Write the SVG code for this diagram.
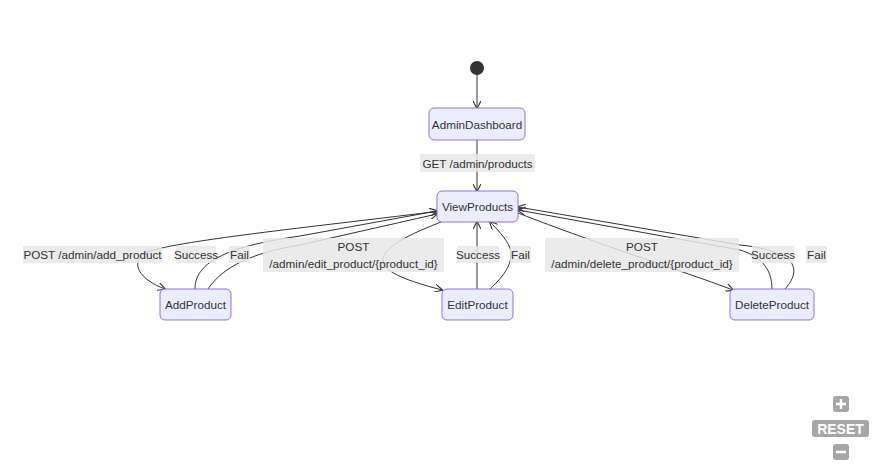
<svg xmlns="http://www.w3.org/2000/svg" width="879" height="469" viewBox="0 0 879 469">
<defs>
<marker id="arr" viewBox="0 0 10 10" refX="9" refY="5" markerWidth="8" markerHeight="8" orient="auto-start-reverse" markerUnits="userSpaceOnUse">
<path d="M0,0 L10,5 L0,10" fill="none" stroke="#333" stroke-width="1.4"/>
</marker>
<style>
.node text,.lbl text{font-family:"Liberation Sans",Arial,sans-serif;font-size:11.7px;fill:#333;text-anchor:middle;dominant-baseline:central}
.node rect{fill:#ECECFF;stroke:#9370DB;stroke-width:1}
.edge{fill:none;stroke:#333;stroke-width:1;marker-end:url(#arr)}
.lbl rect{fill:#e8e8e8;opacity:0.85}
.ctrl rect{fill:#a6a6a6}
.ctrl text{font-family:"Liberation Sans",Arial,sans-serif;font-weight:bold;font-size:14px;fill:#fff;text-anchor:middle;dominant-baseline:central}
</style>
</defs>
<rect width="879" height="469" fill="#fff"/>

<g id="connectors">
<path class="edge" d="M477,75 L477,108"/>
<path class="edge" d="M477,140 L477,191"/>
<path class="edge" d="M440,211 C330,225 180,240 147,252 C128,262 140,280 165,289"/>
<path class="edge" d="M195,289 C195,264 222,247 300,236 L437,211"/>
<path class="edge" d="M208,289 C222,268 250,253 300,245 L437,214"/>
<path class="edge" d="M441,222 C400,238 381,250 383,262 C386,275 420,284 442,290"/>
<path class="edge" d="M477,289 L477,222"/>
<path class="edge" d="M490,289 C505,275 514,262 510,248 C506,238 496,228 490,222"/>
<path class="edge" d="M518,213 C600,245 680,270 733,290"/>
<path class="edge" d="M772,289 C772,268 760,256 740,250 L518,210"/>
<path class="edge" d="M785,289 C798,275 796,262 783,256 C770,250 760,247 740,245 L518,207"/>
</g>

<g id="labels">
<g class="lbl"><rect x="420" y="154" width="115" height="18"/><text x="477.5" y="163">GET /admin/products</text></g>
<g class="lbl"><rect x="23" y="246" width="139" height="17"/><text x="92.5" y="254.5">POST /admin/add_product</text></g>
<g class="lbl"><rect x="176" y="246" width="40" height="17"/><text x="196" y="254.5">Success</text></g>
<g class="lbl"><rect x="229" y="246" width="21" height="17"/><text x="239.5" y="254.5">Fail</text></g>
<g class="lbl"><rect x="263" y="238" width="181" height="34"/><text x="353.5" y="246">POST</text><text x="353.5" y="263">/admin/edit_product/{product_id}</text></g>
<g class="lbl"><rect x="457" y="246" width="42" height="17"/><text x="478" y="254.5">Success</text></g>
<g class="lbl"><rect x="510" y="246" width="21" height="17"/><text x="520.5" y="254.5">Fail</text></g>
<g class="lbl"><rect x="545" y="238" width="194" height="34"/><text x="642" y="246">POST</text><text x="642" y="263">/admin/delete_product/{product_id}</text></g>
<g class="lbl"><rect x="752" y="246" width="42" height="17"/><text x="773" y="254.5">Success</text></g>
<g class="lbl"><rect x="806" y="246" width="21" height="17"/><text x="816.5" y="254.5">Fail</text></g>
</g>

<g id="start"><circle cx="477" cy="68" r="7" fill="#333"/></g>
<g id="AdminDashboard" class="node"><rect x="429" y="108" width="96" height="32" rx="5"/><text x="477" y="124">AdminDashboard</text></g>
<g id="ViewProducts" class="node"><rect x="437" y="191" width="81" height="31" rx="5"/><text x="477.5" y="206.5">ViewProducts</text></g>
<g id="AddProduct" class="node"><rect x="160" y="289" width="71" height="31" rx="5"/><text x="195.5" y="304.5">AddProduct</text></g>
<g id="EditProduct" class="node"><rect x="442" y="289" width="71" height="31" rx="5"/><text x="477.5" y="304.5">EditProduct</text></g>
<g id="DeleteProduct" class="node"><rect x="730" y="289" width="84" height="31" rx="5"/><text x="772" y="304.5">DeleteProduct</text></g>

<g id="controls" class="ctrl">
<rect x="833" y="396" width="16" height="16" rx="3"/>
<path d="M841,399 V409 M836,404 H846" stroke="#fff" stroke-width="2.5"/>
<rect x="812" y="420" width="57" height="17" rx="3"/>
<text x="840.5" y="429">RESET</text>
<rect x="833" y="444" width="16" height="16" rx="3"/>
<path d="M836,452 H846" stroke="#fff" stroke-width="2.5"/>
</g>
</svg>
